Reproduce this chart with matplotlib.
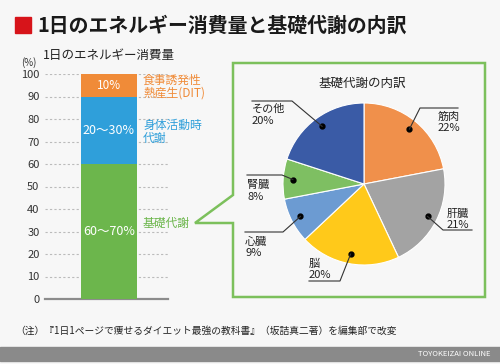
import matplotlib
matplotlib.use("Agg")
import matplotlib.pyplot as plt
import numpy as np
from matplotlib.patches import Rectangle, Polygon

plt.rcParams['font.family'] = ['Noto Sans CJK JP', 'DejaVu Sans']

# ---------------- data ----------------
bar_parts = ["基礎代謝", "身体活動時\n代謝", "食事誘発性\n熱産生(DIT)"]
bar_values = [60, 30, 10]
bar_inner_labels = ["60〜70%", "20〜30%", "10%"]
bar_colors = ["#6CB64C", "#2F9FDA", "#F08B38"]

pie_labels = ["筋肉", "肝臓", "脳", "心臓", "腎臓", "その他"]
pie_values = [22, 21, 20, 9, 8, 20]
pie_colors = ["#F0904B", "#A3A3A3", "#FFC91A", "#6C9BD2", "#7EBF62", "#3A5BA6"]

y_ticks = list(range(0, 101, 10))

W, H = 500, 364
BG = "#F7F7F7"
fig = plt.figure(figsize=(W / 100, H / 100), dpi=100, facecolor=BG)


def box(x0, y0, x1, y1):
    """pixel box (top-left origin) -> figure fraction rect"""
    return [x0 / W, (H - y1) / H, (x1 - x0) / W, (y1 - y0) / H]


# ---------------- stacked bar ----------------
ax = fig.add_axes(box(45, 74, 168, 299))
ax.set_facecolor("none")
ax.set_xlim(0, 1)
ax.set_ylim(0, 100)
bottom = 0
for v, c, lab in zip(bar_values, bar_colors, bar_inner_labels):
    ax.bar(0.52, v, width=0.455, bottom=bottom, color=c, zorder=3)
    bottom += v
# inner labels
ax.text(0.52, 30, bar_inner_labels[0], color="white", ha="center", va="center", fontsize=9, zorder=4)
ax.text(0.52, 75, bar_inner_labels[1], color="white", ha="center", va="center", fontsize=9, zorder=4)
ax.text(0.52, 95, bar_inner_labels[2], color="white", ha="center", va="center", fontsize=8.5, zorder=4)
ax.set_yticks(y_ticks)
ax.set_xticks([])
ax.tick_params(axis="y", length=0, pad=4, labelsize=8, labelcolor="#333333")
for s in ["left", "right", "top"]:
    ax.spines[s].set_visible(False)
ax.spines["bottom"].set_color("#8C8C8C")
ax.spines["bottom"].set_linewidth(1.6)
ax.yaxis.grid(True, linestyle=(0, (2, 2)), color="#BBBBBB", linewidth=0.8, zorder=0)
ax.set_axisbelow(True)

# ---------------- pie ----------------
cx, cy, R = 364, 184, 81
pax = fig.add_axes(box(cx - R, cy - R, cx + R, cy + R))
pax.pie(pie_values, colors=pie_colors, startangle=90, counterclock=False,
        radius=1, wedgeprops=dict(edgecolor="white", linewidth=0.8))
pax.set_xlim(-1, 1)
pax.set_ylim(-1, 1)
pax.set_aspect("auto")
pax.axis("off")

# ---------------- overlay (pixel coordinates) ----------------
ov = fig.add_axes([0, 0, 1, 1], zorder=10)
ov.set_xlim(0, W)
ov.set_ylim(H, 0)
ov.axis("off")
ov.patch.set_alpha(0)

# title
ov.add_patch(Rectangle((15, 17), 16, 16, color="#D7141A"))
ov.text(37, 25, "1日のエネルギー消費量と基礎代謝の内訳", fontsize=14.3, fontweight="bold",
        va="center", ha="left", color="#1A1A1A")
ov.text(43, 55, "1日のエネルギー消費量", fontsize=9, va="center", ha="left", color="#222222")
ov.text(29, 63, "(%)", fontsize=7, va="center", ha="center", color="#333333")

# bar side labels
ov.text(143, 86.5, bar_parts[2], color=bar_colors[2], fontsize=8.5, va="center", ha="left",
        linespacing=1.0)
ov.text(143, 131.5, bar_parts[1], color=bar_colors[1], fontsize=8.5, va="center", ha="left",
        linespacing=1.0)
ov.text(143, 223, bar_parts[0], color=bar_colors[0], fontsize=8.5, va="center", ha="left")

# callout box
green = "#7CC05C"
callout = Polygon([(233, 195), (233, 63), (485, 63), (485, 297), (233, 297),
                   (233, 223), (195, 223)], closed=True, fill=False,
                  edgecolor=green, linewidth=1.8, joinstyle="miter")
ov.add_patch(callout)
ov.text(362, 83, "基礎代謝の内訳", fontsize=9, ha="center", va="center", color="#222222")

# pie leader lines & labels
cum = np.cumsum([0] + pie_values[:-1])
mids = 90 - (cum + np.array(pie_values) / 2) * 3.6
# layout: elbow point, line end x, text x, text y (name), text y (value)
layout = [
    ((420, 108), 458, 438, 117, 128),
    ((443, 230), 472, 447, 214, 225),
    ((340, 281), 309, 309, 264, 275),
    ((283, 232), 245, 245, 242, 253),
    ((282, 175), 247, 247, 185, 197),
    ((292, 101), 252, 252, 109, 121),
]
for name, val, m, (elb, lx, tx, ty1, ty2) in zip(pie_labels, pie_values, mids, layout):
    dx = cx + 0.88 * R * np.cos(np.radians(m))
    dy = cy - 0.88 * R * np.sin(np.radians(m))
    ov.plot([dx], [dy], "o", color="black", markersize=3.5)
    ov.plot([dx, elb[0], lx], [dy, elb[1], elb[1]], color="#333333", linewidth=0.8)
    ov.text(tx, ty1, name, fontsize=8, ha="left", va="center", color="#222222")
    ov.text(tx, ty2, f"{val}%", fontsize=8, ha="left", va="center", color="#222222")

# footnote
ov.text(15, 331, "（注）『1日1ページで痩せるダイエット最強の教科書』（坂詰真二著）を編集部で改変",
        fontsize=7, ha="left", va="center", color="#222222")

# bottom band
ov.add_patch(Rectangle((0, 347), W, 14, color="#8A8A8A"))
ov.text(490, 354, "TOYOKEIZAI ONLINE", fontsize=5.5, color="white", ha="right", va="center")

fig.savefig("out.png", dpi=100, facecolor=BG)
